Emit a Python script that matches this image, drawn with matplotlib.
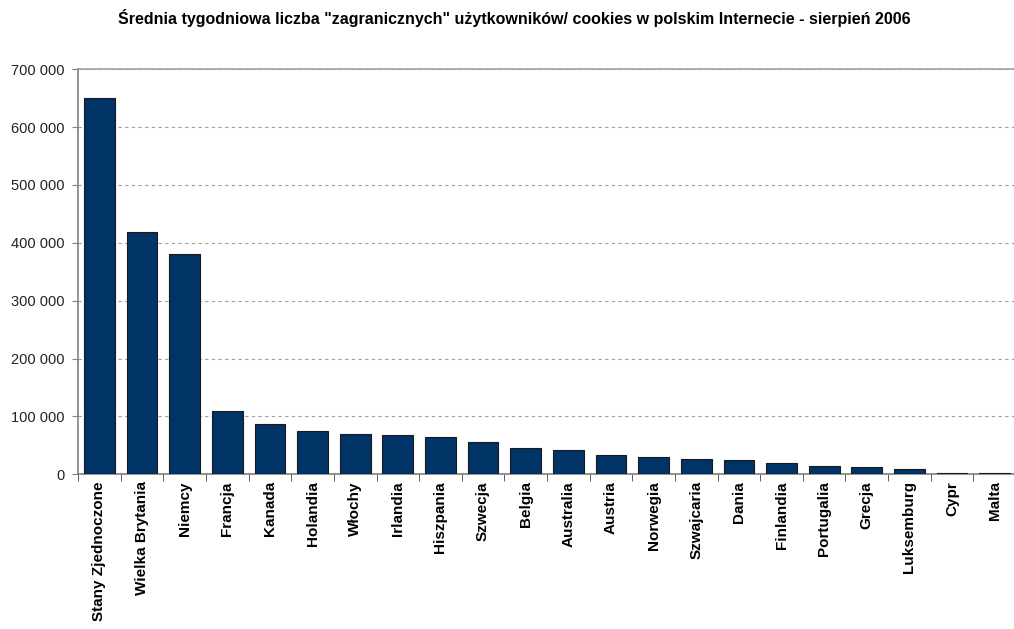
import numpy as np
import matplotlib
matplotlib.use("Agg")
import matplotlib.pyplot as plt
from matplotlib.ticker import FuncFormatter

plt.rcParams['font.family'] = ['Liberation Sans', 'DejaVu Sans']

# Data
countries = ["Stany Zjednoczone", "Wielka Brytania", "Niemcy", "Francja", "Kanada",
             "Holandia", "Włochy", "Irlandia", "Hiszpania", "Szwecja", "Belgia",
             "Australia", "Austria", "Norwegia", "Szwajcaria", "Dania", "Finlandia",
             "Portugalia", "Grecja", "Luksemburg", "Cypr", "Malta"]
users = [650000, 418000, 380000, 109000, 86500, 75000, 69000, 67500, 64000, 55000,
         45500, 41500, 34000, 29000, 26500, 24700, 19500, 15000, 13300, 9800, 2900, 2500]

title = 'Średnia tygodniowa liczba "zagranicznych" użytkowników/ cookies w polskim Internecie - sierpień 2006'

fig = plt.figure(figsize=(10.14, 6.29), dpi=100)
ax = fig.add_axes([0.077, 0.246, 0.925, 0.644])

x = np.arange(len(countries))
ax.bar(x, users, width=0.72, color='#003366', edgecolor='#1a1a1a', linewidth=0.8, zorder=3)

ax.set_xlim(-0.5, len(countries) - 0.5)
ax.set_ylim(0, 700000)
ax.set_yticks(np.arange(0, 700001, 100000))
ax.yaxis.set_major_formatter(FuncFormatter(lambda v, p: f"{int(v):,}".replace(",", " ")))
ax.tick_params(axis='y', labelsize=10.5, length=4, pad=6, color='#808080', colors='#222222')

# category labels centred, ticks between categories
ax.set_xticks(x)
ax.set_xticklabels(countries, rotation=90, fontweight='bold', fontsize=11)
ax.tick_params(axis='x', length=0, pad=5)
ax.set_xticks(np.arange(-0.5, len(countries) + 0.5, 1), minor=True)
ax.tick_params(axis='x', which='minor', length=5, color='#404040', direction='out')

ax.yaxis.grid(True, linestyle=(0, (3, 3)), color='#a0a0a0', linewidth=0.8, zorder=0)
ax.spines['right'].set_visible(False)
ax.spines['top'].set_color('#a0a0a0')
ax.spines['top'].set_linewidth(1.2)
ax.spines['left'].set_color('#808080')
ax.spines['left'].set_linewidth(1.2)
ax.spines['bottom'].set_color('#808080')
ax.spines['bottom'].set_linewidth(1.2)

fig.text(0.507, 0.972, title, ha='center', va='center', fontsize=11.5, fontweight='bold')

fig.savefig("out.png", dpi=100)
